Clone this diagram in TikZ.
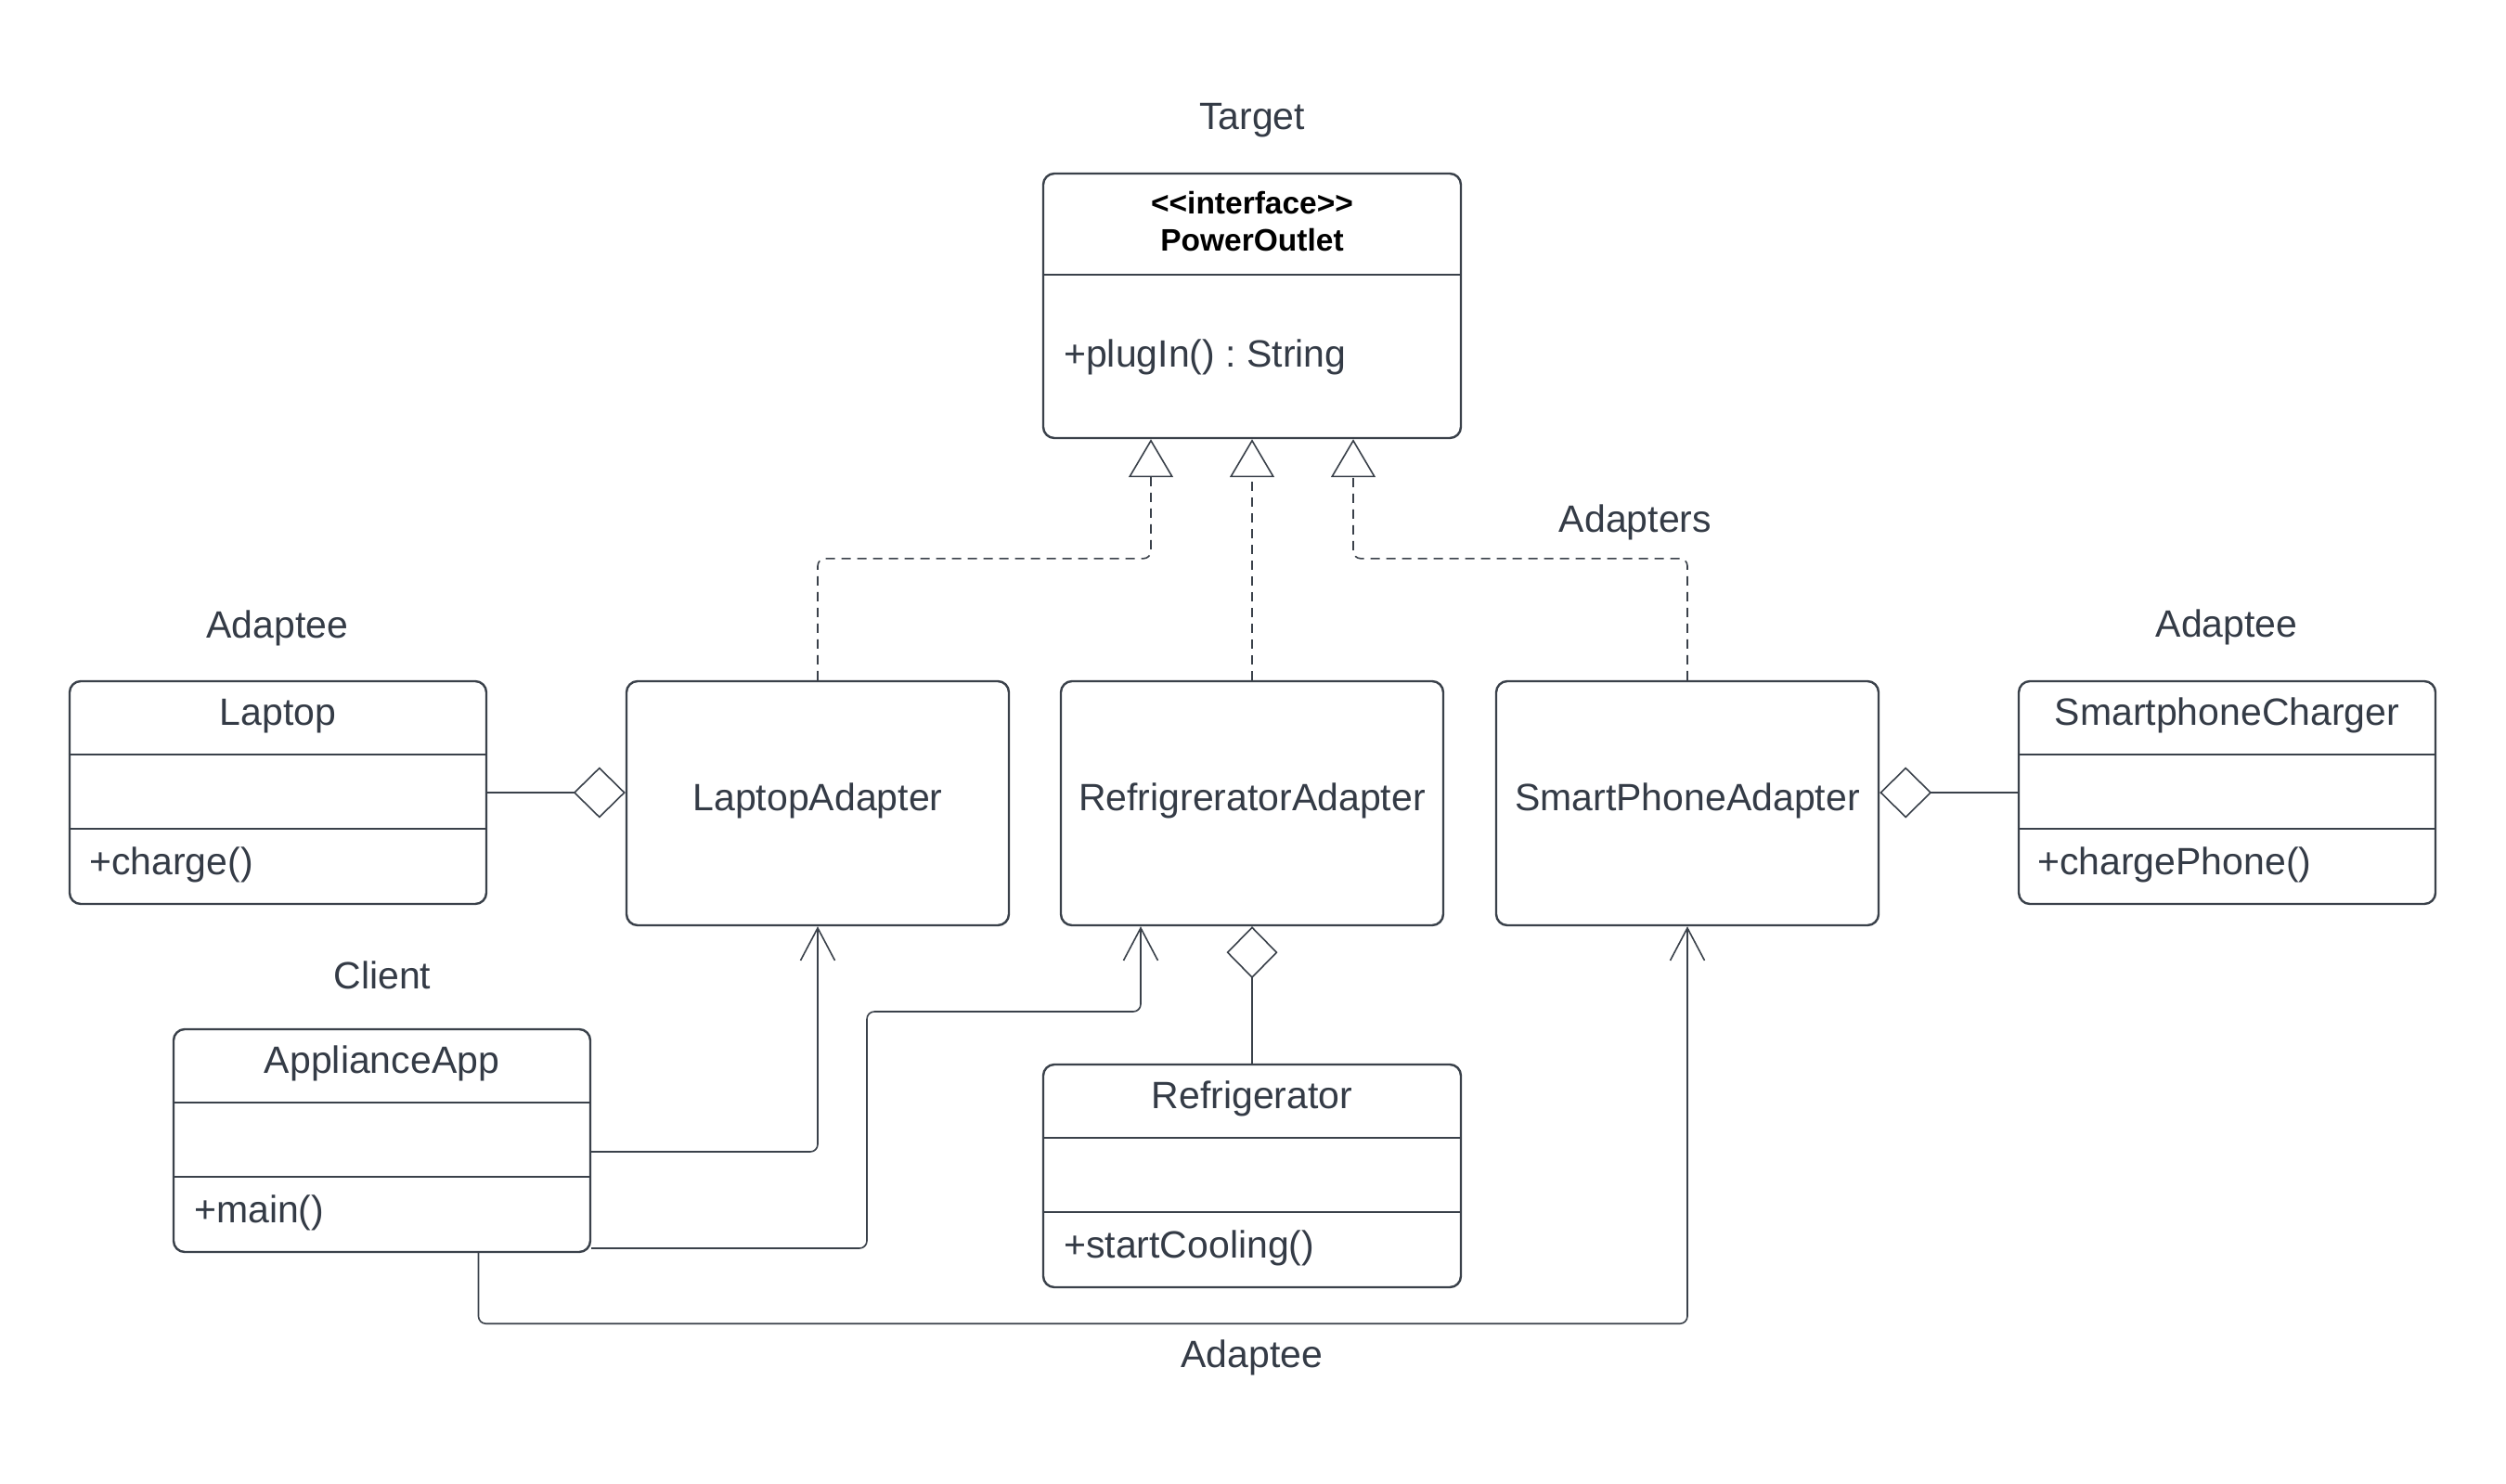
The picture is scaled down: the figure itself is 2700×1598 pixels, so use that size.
\documentclass[tikz,border=0pt]{standalone}
\usepackage{fontspec}
\setmainfont{Liberation Sans}
\usetikzlibrary{arrows.meta,calc}
\definecolor{ln}{RGB}{58,65,74}
\definecolor{tx}{RGB}{52,59,70}
\frenchspacing
\begin{document}
\begin{tikzpicture}[x=1pt,y=-1pt,
  box/.style={draw=ln,line width=2.4pt,rounded corners=12pt,inner sep=0pt,fill=white},
  divthick/.style={draw=ln,line width=2.4pt},
  divthin/.style={draw=ln,line width=1.6pt},
  lbl/.style={inner sep=0pt,anchor=base,text=tx,font=\fontsize{41}{49}\selectfont},
  meth/.style={inner sep=0pt,anchor=base west,text=tx,font=\fontsize{41}{49}\selectfont},
  hdr/.style={inner sep=0pt,anchor=base,text=black,font=\fontsize{33.5}{40}\selectfont\bfseries},
  conn/.style={draw=ln,line width=1.6pt,rounded corners=8pt},
  real/.style={conn,dash pattern=on 10pt off 7pt,-{Triangle[length=41pt,width=48pt,fill=white]}},
  assoc/.style={conn,-{Straight Barb[length=35pt,width=37pt]}},
  aggr/.style={conn,-{Diamond[length=56pt,width=55pt,fill=white]}}
]
\useasboundingbox (0,0) rectangle (2700,1598);

% ---------- boxes ----------
\node[box,minimum width=450pt,minimum height=285pt] (po) at (1349,329.5) {};
\node[box,minimum width=449pt,minimum height=240pt] (lap) at (299.5,854) {};
\node[box,minimum width=412pt,minimum height=263pt] (la) at (881,865.5) {};
\node[box,minimum width=412pt,minimum height=263pt] (ra) at (1349,865.5) {};
\node[box,minimum width=412pt,minimum height=263pt] (sa) at (1818,865.5) {};
\node[box,minimum width=449pt,minimum height=240pt] (sc) at (2399.5,854) {};
\node[box,minimum width=449pt,minimum height=240pt] (app) at (411.5,1229) {};
\node[box,minimum width=450pt,minimum height=240pt] (rf) at (1349,1267) {};

% ---------- dividers ----------
\draw[divthick] ($(po.north west)+(0,110)$) -- ($(po.north east)+(0,110)$);
\foreach \b in {lap,sc,app,rf}{
  \draw[divthick] ($(\b.north west)+(0,80)$) -- ($(\b.north east)+(0,80)$);
  \draw[divthin] ($(\b.north west)+(0,160)$) -- ($(\b.north east)+(0,160)$);
}

% ---------- texts in boxes ----------
\node[hdr] (poS) at (1349,230) {<\kern0pt<interface>\kern0pt>};
\node[hdr] (poN) at (1349,270) {PowerOutlet};
\node[meth] (poM) at (1146,395) {+plugIn() : String};

\node[lbl] (lapN) at ($(lap.north)+(0,49)$) {Laptop};
\node[meth] (lapM) at (96,942) {+charge()};

\node[lbl] (laN) at (881,873) {LaptopAdapter};
\node[lbl] (raN) at (1349,873) {RefrigreratorAdapter};
\node[lbl] (saN) at (1818,873) {SmartPhoneAdapter};

\node[lbl] (scN) at ($(sc.north)+(0,49)$) {SmartphoneCharger};
\node[meth] (scM) at (2195,942) {+chargePhone()};

\node[lbl] (appN) at ($(app.north)+(0,49)$) {ApplianceApp};
\node[meth] (appM) at (209,1317) {+main()};

\node[lbl] (rfN) at ($(rf.north)+(0,49)$) {Refrigerator};
\node[meth] (rfM) at (1146,1355) {+startCooling()};

% ---------- free labels ----------
\node[lbl] (tTarget) at (1349,139) {Target};
\node[lbl] (tAdapters) at (1762,573) {Adapters};
\node[lbl] (tAdapteeL) at (299,687) {Adaptee};
\node[lbl] (tAdapteeR) at (2399,686) {Adaptee};
\node[lbl] (tClient) at (412,1065) {Client};
\node[lbl] (tAdapteeB) at (1349,1473) {Adaptee};

% ---------- realizations ----------
\draw[real] (la.north) -- ++(0,-131) -| ([xshift=-109pt]po.south);
\draw[real] (ra.north) -- (po.south);
\draw[real] (sa.north) -- ++(0,-131) -| ([xshift=109pt]po.south);

% ---------- aggregations ----------
\draw[aggr] (lap.east) -- (lap.east -| la.west);
\draw[aggr] (sc.west) -- (sc.west -| sa.east);
\draw[aggr] (rf.north) -- (ra.south);

% ---------- associations ----------
\coordinate (bend2) at (934,1090);
\draw[assoc] ($(app.east)+(0,12)$) -| (la.south);
\draw[assoc] ($(app.east)+(0,116)$) -| (bend2) -| ([xshift=-120pt]ra.south);
\draw[assoc] ([xshift=104pt]app.south) -- ++(0,76) -| (sa.south);
\end{tikzpicture}
\end{document}
